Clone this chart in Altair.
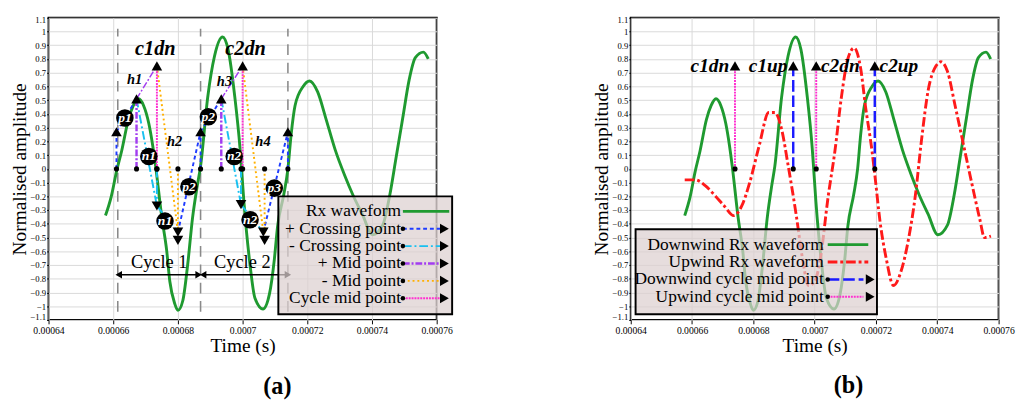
import altair as alt
import pandas as pd

FONT = "Liberation Serif"

# ---------------- values ----------------
# downwind (green) received waveform
dn_time = [0.0006576, 0.0006594, 0.000661, 0.0006626, 0.0006647, 0.0006662, 0.0006678,
           0.0006694, 0.000671, 0.0006722, 0.0006731, 0.000675, 0.0006765, 0.0006775,
           0.000679, 0.00068, 0.0006815, 0.000683, 0.0006845, 0.000686, 0.000687,
           0.0006892, 0.0006913, 0.0006938, 0.0006955, 0.0006976, 0.0006992, 0.0007004,
           0.0007023, 0.0007038, 0.0007063, 0.0007083, 0.0007098, 0.0007108, 0.0007127,
           0.000714, 0.000715, 0.0007162, 0.0007187, 0.0007207, 0.0007232, 0.0007257,
           0.0007286, 0.0007316, 0.0007341, 0.000737, 0.0007402, 0.0007433, 0.0007455,
           0.0007475, 0.0007495, 0.0007515, 0.0007534, 0.0007559, 0.0007574]
dn_amp = [-0.34, -0.20, -0.02, 0.13, 0.36, 0.46, 0.51,
          0.46, 0.33, 0.17, 0.02, -0.35, -0.59, -0.82,
          -0.98, -1.03, -0.96, -0.70, -0.36, -0.12, 0.02,
          0.52, 0.82, 0.96, 0.87, 0.52, 0.15, -0.24,
          -0.70, -0.94, -1.02, -0.91, -0.66, -0.42, -0.19,
          0.0, 0.25, 0.46, 0.60, 0.64, 0.56, 0.37,
          0.14, -0.05, -0.19, -0.33, -0.48, -0.41, -0.19,
          0.09, 0.37, 0.65, 0.81, 0.85, 0.80]

# upwind (red) received waveform
up_time = [0.0006576, 0.000661, 0.0006642, 0.0006673, 0.0006705, 0.0006736, 0.0006762,
           0.0006788, 0.0006819, 0.000685, 0.000687, 0.0006892, 0.0006913, 0.000694,
           0.000696, 0.000698, 0.0007, 0.0007018, 0.0007044, 0.0007066, 0.0007087,
           0.0007108, 0.0007129, 0.000715, 0.0007166, 0.0007187, 0.0007197, 0.0007213,
           0.0007234, 0.0007257, 0.0007281, 0.0007307, 0.0007328, 0.0007349, 0.000737,
           0.0007396, 0.0007412, 0.0007433, 0.0007459, 0.0007486, 0.0007512, 0.0007538,
           0.0007554, 0.0007575]
up_amp = [-0.08, -0.08, -0.12, -0.19, -0.27, -0.34, -0.27,
          -0.10, 0.17, 0.41, 0.41, 0.29, 0.03, -0.34,
          -0.65, -0.85, -0.82, -0.66, -0.20, 0.13, 0.52,
          0.80, 0.88, 0.73, 0.45, 0.13, -0.06, -0.38,
          -0.66, -0.85, -0.75, -0.50, -0.20, 0.22, 0.57,
          0.75, 0.78, 0.71, 0.45, 0.17, -0.10, -0.36,
          -0.50, -0.49]

x_ticks = [0.00064, 0.00066, 0.00068, 0.0007, 0.00072, 0.00074, 0.00076]
y_ticks = [-1.1, -1.0, -0.9, -0.8, -0.7, -0.6, -0.5, -0.4, -0.3, -0.2, -0.1, 0.0,
           0.1, 0.2, 0.3, 0.4, 0.5, 0.6, 0.7, 0.8, 0.9, 1.0, 1.1]

# panel (a): vertical marker arrows (dot on the zero line -> triangle tip)
arrow_kind = ["pc", "pc", "pc", "pm", "pm", "cm", "cm", "nc", "nc", "nm", "nm"]
arrow_time = [0.000661, 0.000687, 0.000714, 0.0006672, 0.0006934, 0.0006735, 0.0007,
              0.0006735, 0.0006995, 0.00068, 0.0007068]
arrow_tip = [0.27, 0.27, 0.27, 0.51, 0.51, 0.75, 0.75, -0.27, -0.26, -0.52, -0.52]

# panel (a): links between marker tips
link_kind = ["pc", "pc", "pc", "pc", "pm", "pm", "nc", "nc", "nc", "nc", "nm", "nm"]
link_t1 = [0.000661, 0.00068, 0.000687, 0.0007064, 0.0006672, 0.0006934, 0.0006672,
           0.0006735, 0.0006934, 0.0006995, 0.0006735, 0.0007]
link_a1 = [0.27, -0.46, 0.27, -0.46, 0.51, 0.51, 0.51, -0.27, 0.51, -0.26, 0.75, 0.75]
link_t2 = [0.0006672, 0.000687, 0.0006934, 0.000714, 0.0006735, 0.0007, 0.0006735,
           0.00068, 0.0006995, 0.0007064, 0.00068, 0.0007064]
link_a2 = [0.51, 0.27, 0.51, 0.27, 0.75, 0.75, -0.27, -0.46, -0.26, -0.46, -0.46, -0.46]

# labelled circles
circ_text = ["p1", "n1", "n1", "p2", "p2", "n2", "n2", "p3"]
circ_time = [0.0006636, 0.000671, 0.000676, 0.0006834, 0.0006894, 0.0006974, 0.0007023, 0.0007098]
circ_amp = [0.37, 0.09, -0.38, -0.13, 0.38, 0.09, -0.37, -0.14]

h_text = ["h1", "h2", "h3", "h4"]
h_time = [0.0006666, 0.000679, 0.0006944, 0.0007063]
h_amp = [0.65, 0.20, 0.64, 0.20]

cdn_text = ["c1dn", "c2dn"]
cdn_time = [0.000673, 0.0007009]
cdn_amp = [0.87, 0.87]

cyc_bound = [0.0006614, 0.000687, 0.000714]
cyc_label = ["Cycle 1", "Cycle 2"]
cyc_start = [0.0006617, 0.0006878]
cyc_end = [0.0006864, 0.000714]
cyc_mid = [0.0006742, 0.0006999]
cyc_arrow_amp = -0.77
cyc_text_amp = -0.68

leg_a_labels = ["Rx waveform", "+ Crossing point", "- Crossing point", "+ Mid point",
                "- Mid point", "Cycle mid point"]
leg_a_kind = ["rx", "pc", "nc", "pm", "nm", "cm"]

# panel (b): cycle mid points
mid_label = ["c1dn", "c1up", "c2dn", "c2up"]
mid_time = [0.000674, 0.000693, 0.0007005, 0.0007196]
mid_kind = ["ucm", "dcm", "ucm", "dcm"]
mid_top = 0.75

leg_b_labels = ["Downwind Rx waveform", "Upwind Rx waveform", "Downwind cycle mid point",
                "Upwind cycle mid point"]
leg_b_kind = ["dn", "up", "dcm", "ucm"]

# ---------------- styles ----------------
STY = {
    "rx": dict(color="#1f9a30", dash=[1, 0], width=3),
    "dn": dict(color="#1f9a30", dash=[1, 0], width=3),
    "up": dict(color="#ff1a1a", dash=[10, 3, 3, 3], width=3),
    "pc": dict(color="#1f3cff", dash=[4, 3], width=2),
    "nc": dict(color="#19c0f0", dash=[9, 3, 2, 3], width=2),
    "pm": dict(color="#a23cf0", dash=[7, 2, 2, 2], width=2.5),
    "nm": dict(color="#ffb000", dash=[2, 3], width=2),
    "cm": dict(color="#ff30d0", dash=[2, 1], width=2),
    "dcm": dict(color="#1a1aff", dash=[12, 4], width=2.5),
    "ucm": dict(color="#ff30d0", dash=[2, 1], width=2),
}

W_A, W_B, H = 402, 381, 313

xs = alt.Scale(domain=[0.00064, 0.00076], nice=False, zero=False)
ys = alt.Scale(domain=[-1.1, 1.1], nice=False, zero=False)
xaxis = alt.Axis(values=x_ticks, format=".5~f", title="Time (s)", grid=True, domain=False,
                 tickSize=4, labelPadding=2, titlePadding=1, labelOverlap=False, labelFlush=False,
                 labelFont=FONT, titleFont=FONT, labelFontSize=10, titleFontSize=20,
                 titleFontWeight="normal")
yaxis = alt.Axis(values=y_ticks, format=".1~f", title="Normalised amplitude", grid=True, domain=False,
                 tickSize=2, labelPadding=1, titlePadding=1, labelOverlap=False, labelFlush=True,
                 labelFlushOffset=2, labelFont=FONT, titleFont=FONT, labelFontSize=9,
                 titleFontSize=20, titleFontWeight="normal")


def X(f):
    return alt.X(f"{f}:Q", scale=xs, axis=xaxis)


def Y(f):
    return alt.Y(f"{f}:Q", scale=ys, axis=yaxis)


def PX(f):
    return alt.X(f"{f}:Q", scale=None)


def PY(f):
    return alt.Y(f"{f}:Q", scale=None)


def legend_layers(labels, kinds, box, row0, step, xlab, xdot, xline_end, xtri, xline_long):
    x0, x1, y0, y1 = box
    layers = [alt.Chart(pd.DataFrame({"x0": [x0], "x1": [x1], "y0": [y0], "y1": [y1]})).mark_rect(
        fill="#dcd0d0", fillOpacity=0.72, stroke="black", strokeWidth=2
    ).encode(x=PX("x0"), x2="x1", y=PY("y0"), y2="y1")]
    rows = pd.DataFrame({"label": labels, "kind": kinds,
                         "py": [row0 + i * step for i in range(len(labels))]})
    rows["xl"] = xlab
    rows["xd"] = xdot
    rows["xt"] = xtri
    layers.append(alt.Chart(rows).mark_text(align="right", baseline="middle", font=FONT,
                                            fontSize=18, color="black", dx=-1).encode(
        x=PX("xl"), y=PY("py"), text="label:N"))
    for k in kinds:
        s = STY[k]
        r = rows[rows.kind == k].copy()
        solid = k in ("rx", "dn", "up")
        r["xe"] = xline_long if solid else xline_end
        layers.append(alt.Chart(r).mark_rule(color=s["color"], strokeDash=s["dash"],
                                             strokeWidth=s["width"]).encode(
            x=PX("xd"), x2="xe", y=PY("py")))
        if not solid:
            layers.append(alt.Chart(r).mark_point(shape="circle", filled=True, size=22, color="black",
                                                  opacity=1).encode(x=PX("xd"), y=PY("py")))
            layers.append(alt.Chart(r).mark_point(shape="triangle-right", filled=True, size=110,
                                                  color="black", opacity=1).encode(x=PX("xt"), y=PY("py")))
    return layers


# ---------------- panel (a) ----------------
dn_df = pd.DataFrame({"t": dn_time, "a": dn_amp})
up_df = pd.DataFrame({"t": up_time, "a": up_amp})
arr_df = pd.DataFrame({"kind": arrow_kind, "t": arrow_time, "tip": arrow_tip})
arr_df["zero"] = 0.0
link_df = pd.DataFrame({"kind": link_kind, "t1": link_t1, "a1": link_a1, "t2": link_t2, "a2": link_a2})
circ_df = pd.DataFrame({"label": circ_text, "t": circ_time, "a": circ_amp})
h_df = pd.DataFrame({"label": h_text, "t": h_time, "a": h_amp})
cdn_df = pd.DataFrame({"label": cdn_text, "t": cdn_time, "a": cdn_amp})
bound_df = pd.DataFrame({"t": cyc_bound, "lo": -1.04, "hi": 1.02})
cyc_df = pd.DataFrame({"label": cyc_label, "t1": cyc_start, "t2": cyc_end, "tm": cyc_mid})
cyc_df["ya"] = cyc_arrow_amp
cyc_df["yt"] = cyc_text_amp

layers_a = [
    alt.Chart(bound_df).mark_rule(color="#8a8a8a", strokeDash=[11, 8], strokeWidth=1.6).encode(
        x=X("t"), y=Y("lo"), y2="hi"),
    alt.Chart(dn_df).mark_line(color="#1f9a30", strokeWidth=3, interpolate="monotone").encode(
        x=X("t"), y=Y("a")),
]
for k in ["nm", "pm", "nc", "pc", "cm"]:
    s = STY[k]
    w = 1.5 if k == "pm" else s["width"]
    layers_a.append(alt.Chart(link_df).transform_filter(alt.datum.kind == k).mark_rule(
        color=s["color"], strokeDash=s["dash"], strokeWidth=w).encode(
        x=X("t1"), y=Y("a1"), x2="t2", y2="a2"))
for k in ["nm", "pm", "nc", "pc", "cm"]:
    s = STY[k]
    layers_a.append(alt.Chart(arr_df).transform_filter(alt.datum.kind == k).mark_rule(
        color=s["color"], strokeDash=s["dash"], strokeWidth=s["width"]).encode(
        x=X("t"), y=Y("zero"), y2="tip"))
layers_a += [
    alt.Chart(arr_df).mark_point(shape="circle", filled=True, size=28, color="black", opacity=1).encode(
        x=X("t"), y=Y("zero")),
    alt.Chart(arr_df).transform_filter(alt.datum.tip > 0).mark_point(
        shape="triangle-up", filled=True, size=120, color="black", opacity=1).encode(x=X("t"), y=Y("tip")),
    alt.Chart(arr_df).transform_filter(alt.datum.tip < 0).mark_point(
        shape="triangle-down", filled=True, size=120, color="black", opacity=1).encode(x=X("t"), y=Y("tip")),
    alt.Chart(link_df).transform_filter((alt.datum.kind == "nc") & (alt.datum.a2 < -0.4)).mark_point(
        shape="triangle-down", filled=True, size=120, color="black", opacity=1).encode(x=X("t2"), y=Y("a2")),
    alt.Chart(circ_df).mark_point(shape="circle", filled=True, size=330, color="black", opacity=1).encode(
        x=X("t"), y=Y("a")),
    alt.Chart(circ_df).mark_text(font=FONT, fontSize=14, fontStyle="italic", fontWeight="bold",
                                 color="white").encode(x=X("t"), y=Y("a"), text="label:N"),
    alt.Chart(h_df).mark_text(font=FONT, fontSize=15, fontStyle="italic", fontWeight="bold",
                              color="black").encode(x=X("t"), y=Y("a"), text="label:N"),
    alt.Chart(cdn_df).mark_text(font=FONT, fontSize=21, fontStyle="italic", fontWeight="bold",
                                color="black").encode(x=X("t"), y=Y("a"), text="label:N"),
    alt.Chart(cyc_df).mark_rule(color="black", strokeWidth=1.6).encode(x=X("t1"), x2="t2", y=Y("ya")),
    alt.Chart(cyc_df).mark_point(shape="triangle-left", filled=True, size=60, color="black",
                                 opacity=1).encode(x=X("t1"), y=Y("ya")),
    alt.Chart(cyc_df).mark_point(shape="triangle-right", filled=True, size=60, color="black",
                                 opacity=1).encode(x=X("t2"), y=Y("ya")),
    alt.Chart(cyc_df).mark_text(font=FONT, fontSize=19, color="black").encode(
        x=X("tm"), y=Y("yt"), text="label:N"),
]
layers_a += legend_layers(leg_a_labels, leg_a_kind,
                          box=(W_A - 164, W_A + 16, H - 128, H - 6),
                          row0=H - 112.5, step=18,
                          xlab=W_A - 36, xdot=W_A - 35, xline_end=W_A + 4, xtri=W_A + 8,
                          xline_long=W_A + 13)
layers_a.append(alt.Chart(pd.DataFrame({"label": ["(a)"], "px": [W_A / 2 + 36], "py": [H + 69]})).mark_text(
    font=FONT, fontSize=25, fontWeight="bold", color="black").encode(x=PX("px"), y=PY("py"), text="label:N"))

chart_a = alt.layer(*layers_a).properties(width=W_A, height=H)

# ---------------- panel (b) ----------------
mid_df = pd.DataFrame({"label": mid_label, "t": mid_time, "kind": mid_kind})
mid_df["zero"] = 0.0
mid_df["top"] = mid_top

layers_b = [
    alt.Chart(dn_df).mark_line(color="#1f9a30", strokeWidth=3, interpolate="monotone").encode(
        x=X("t"), y=Y("a")),
    alt.Chart(up_df).mark_line(color="#ff1a1a", strokeWidth=3, strokeDash=[10, 3, 3, 3],
                               interpolate="monotone").encode(x=X("t"), y=Y("a")),
]
for k in ["ucm", "dcm"]:
    s = STY[k]
    layers_b.append(alt.Chart(mid_df).transform_filter(alt.datum.kind == k).mark_rule(
        color=s["color"], strokeDash=s["dash"], strokeWidth=s["width"]).encode(
        x=X("t"), y=Y("zero"), y2="top"))
layers_b += [
    alt.Chart(mid_df).mark_point(shape="circle", filled=True, size=28, color="black", opacity=1).encode(
        x=X("t"), y=Y("zero")),
    alt.Chart(mid_df).mark_point(shape="triangle-up", filled=True, size=120, color="black", opacity=1).encode(
        x=X("t"), y=Y("top")),
    alt.Chart(mid_df).transform_filter(alt.FieldOneOfPredicate(field="label", oneOf=["c1dn", "c1up"])).mark_text(
        font=FONT, fontSize=20, fontStyle="italic", fontWeight="bold", color="black", align="right",
        baseline="middle", dx=-6).encode(x=X("t"), y=Y("top"), text="label:N"),
    alt.Chart(mid_df).transform_filter(alt.FieldOneOfPredicate(field="label", oneOf=["c2dn", "c2up"])).mark_text(
        font=FONT, fontSize=20, fontStyle="italic", fontWeight="bold", color="black", align="left",
        baseline="middle", dx=5).encode(x=X("t"), y=Y("top"), text="label:N"),
]
layers_b += legend_layers(leg_b_labels, leg_b_kind,
                          box=(5, 255, H - 94, H - 6),
                          row0=H - 78, step=18,
                          xlab=201, xdot=204, xline_end=241, xtri=248, xline_long=246)
layers_b.append(alt.Chart(pd.DataFrame({"label": ["(b)"], "px": [W_B / 2 + 35], "py": [H + 68]})).mark_text(
    font=FONT, fontSize=25, fontWeight="bold", color="black").encode(x=PX("px"), y=PY("py"), text="label:N"))

chart_b = alt.layer(*layers_b).properties(width=W_B, height=H)

chart = alt.hconcat(chart_a, chart_b, spacing=141).properties(
    padding={"left": 0, "top": 0, "right": 0, "bottom": 0}
).configure(font=FONT).configure_view(stroke="black", strokeWidth=2).configure_axis(
    labelFont=FONT, titleFont=FONT, titleFontSize=20, titleFontWeight="normal",
    labelColor="black", titleColor="black", tickColor="black", gridColor="#d9d9d9", gridWidth=1
)

chart.save("out.html", embed_options={"renderer": "svg", "actions": False})
